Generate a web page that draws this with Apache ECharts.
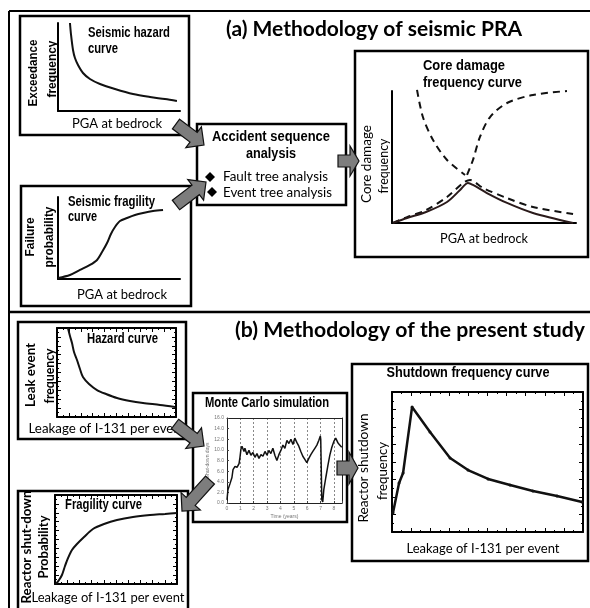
<!DOCTYPE html>
<html><head><meta charset="utf-8">
<script src="https://cdn.jsdelivr.net/npm/echarts@6/dist/echarts.min.js"></script>
<style>html,body{margin:0;padding:0;background:#fff}#c{width:590px;height:608px}</style>
</head><body><div id="c"></div>
<script>
// ---- data (abstract units) ----
const seismicHazard = [[0.98,10.0],[1.07,8.64],[1.23,6.93],[1.39,6.02],[1.64,5.23],[2.05,4.32],[2.62,3.64],[3.44,3.07],[4.67,2.5],[6.15,1.93],[7.54,1.59],[8.77,1.36],[9.75,1.14]];
const seismicFragility = [[0,0.12],[0.98,0.49],[1.8,1.1],[2.62,1.71],[3.2,2.32],[3.61,3.29],[4.02,4.39],[4.34,5.49],[4.67,6.34],[5.08,7.07],[5.66,7.44],[6.31,7.80],[6.97,8.05],[7.79,8.29],[8.61,8.41]];
const cdfHazardDashed = [[1.36,10.08],[1.68,8.03],[2.23,6.29],[2.99,4.77],[3.97,3.64]];
const cdfFragilityDashed = [[4.08,3.64],[4.40,4.77],[4.78,6.52],[5.33,8.03],[6.25,9.09],[7.66,9.70],[9.51,10.0]];
const cdfSolid = [[0.05,0],[0.82,0.38],[1.85,0.83],[2.99,1.59],[3.70,2.5],[4.13,3.03],[4.40,2.88],[5.16,2.27],[6.25,1.52],[7.66,0.76],[9.84,0]];
const cdfDashed = [[0.05,0],[0.82,0.45],[1.85,0.98],[2.99,1.97],[3.86,3.03],[4.24,3.26],[4.95,2.65],[6.25,1.89],[7.66,1.21],[9.84,0.68]];
const leakHazard = [[0.92,10],[1.09,9.1],[1.26,8.31],[1.43,7.30],[1.68,6.40],[1.93,5.39],[2.18,4.49],[2.69,3.71],[3.36,3.03],[4.12,2.58],[5.04,2.13],[6.13,1.80],[7.23,1.57],[8.66,1.35],[9.92,1.12]];
const leakFragility = [[0.08,0],[0.33,0.45],[0.57,1.01],[0.82,2.02],[1.07,2.92],[1.39,3.82],[1.80,4.49],[2.38,5.28],[3.11,6.18],[4.02,6.74],[5.08,7.19],[6.39,7.53],[7.79,7.75],[9.02,7.87],[10,7.98]];
const mcTime = [0,0.07,0.22,0.37,0.45,0.6,0.75,0.9,0.97,1.04,1.12,1.27,1.34,1.49,1.64,1.79,1.94,2.09,2.24,2.39,2.54,2.69,2.84,2.99,3.13,3.28,3.43,3.58,3.73,3.88,4.03,4.18,4.33,4.48,4.63,4.78,4.93,5.07,5.22,5.37,5.52,5.67,5.82,5.97,6.12,6.27,6.42,6.57,6.72,6.87,6.98,7.01,7.09,7.16,7.24,7.39,7.54,7.69,7.84,7.99,8.13,8.28,8.43,8.58];
const mcValue = [0.6,2.5,3.6,4.8,6.3,6.9,6.7,7.4,8.6,10.1,10.7,9.7,10.3,9.1,9.9,9.0,9.5,8.6,9.3,8.4,9.1,8.8,9.7,9.0,9.9,9.3,10.3,9.0,8.0,9.1,9.9,10.9,10.3,11.8,11.2,12.0,11.0,12.2,11.4,10.7,9.7,8.8,8.2,7.6,8.4,9.1,9.7,10.3,10.9,11.8,12.6,12.0,0.6,0.2,2.5,4.8,7.0,9.0,10.5,11.6,12.2,11.4,10.9,10.5];
const shutdownFreq = [[0.05,1.09],[0.37,2.8],[0.58,3.37],[1.05,7.14],[1.99,5.71],[3.04,4.23],[3.98,3.54],[5.03,3.03],[6.18,2.69],[7.38,2.34],[8.64,2.06],[9.95,1.71]];
const mcXTicks = [0,1,2,3,4,5,6,7,8];

const NARROW = '"Liberation Sans",Arial,sans-serif';
const HUMAN = 'Lato,"Open Sans",sans-serif';

const chart = echarts.init(document.getElementById('c'), null, {renderer:'canvas'});
const mctx = document.createElement('canvas').getContext('2d');
function measure(font,t){ mctx.font = font; return mctx.measureText(t).width; }

const xAxes = [], yAxes = [];
function plainAxes(gi, xmax, ymax){
  const base = {type:'value', gridIndex:gi, min:0, axisLine:{show:true,onZero:false,lineStyle:{color:'#000',width:2}}, axisTick:{show:false}, axisLabel:{show:false}, splitLine:{show:false}};
  xAxes.push(Object.assign({}, base, {max:xmax}));
  yAxes.push(Object.assign({}, base, {max:ymax}));
}
function framedAxes(gi, xmax, ymax){
  const tick = {show:true, inside:true, length:4, lineStyle:{color:'#000',width:1}};
  const minor = {show:true, splitNumber:2, length:2, lineStyle:{color:'#000',width:1}};
  const base = {type:'value', gridIndex:gi, min:0, interval:1, axisLine:{show:true,onZero:false,lineStyle:{color:'#000',width:2}}, axisTick:tick, minorTick:minor, axisLabel:{show:false}, splitLine:{show:false}};
  xAxes.push(Object.assign({}, base, {max:xmax, position:'bottom'}));
  yAxes.push(Object.assign({}, base, {max:ymax, position:'left'}));
  xAxes.push(Object.assign({}, base, {max:xmax, position:'top'}));
  yAxes.push(Object.assign({}, base, {max:ymax, position:'right'}));
}
plainAxes(0,10,10);         // 0
plainAxes(1,10,10);         // 1
plainAxes(2,10,10);         // 2
framedAxes(3,10,10);        // 3,4
framedAxes(4,10,10);        // 5,6
// MC grid 5
xAxes.push({type:'value', gridIndex:5, min:0, max:8.6, interval:1, axisLine:{show:true,onZero:false,lineStyle:{color:'#222',width:1}},
  axisTick:{show:true,inside:true,length:2,lineStyle:{color:'#444'}}, axisLabel:{show:true,fontSize:5,color:'#777',margin:3,
  customValues:mcXTicks, formatter:v=>String(v)}, splitLine:{show:true,lineStyle:{color:'#888',type:[2,2],width:1}},
  name:'Time (years)', nameLocation:'middle', nameGap:11, nameTextStyle:{fontSize:5,color:'#777'}}); // 7
yAxes.push({type:'value', gridIndex:5, min:0, max:16, interval:2, axisLine:{show:true,onZero:false,lineStyle:{color:'#222',width:1}},
  axisTick:{show:true,inside:true,length:2,lineStyle:{color:'#444'}}, axisLabel:{show:true,fontSize:5,color:'#777',margin:3,
  formatter:v=>v.toFixed(1)}, splitLine:{show:false},
  name:'Shut-down days', nameLocation:'middle', nameGap:17, nameRotate:90, nameTextStyle:{fontSize:5,color:'#777'}}); // 7
xAxes.push({type:'value', gridIndex:5, min:0, max:8.6, position:'top', axisLine:{show:true,onZero:false,lineStyle:{color:'#222',width:1}}, axisTick:{show:false}, axisLabel:{show:false}, splitLine:{show:false}}); // 8
yAxes.push({type:'value', gridIndex:5, min:0, max:16, position:'right', axisLine:{show:true,onZero:false,lineStyle:{color:'#222',width:1}}, axisTick:{show:false}, axisLabel:{show:false}, splitLine:{show:false}}); // 8
framedAxes(6,10,8);         // 9,10

const grids = [
  {left:58, top:23, width:122, height:88},
  {left:58, top:197, width:122, height:82},
  {left:392, top:91, width:184, height:132},
  {left:57, top:328, width:119, height:89},
  {left:55, top:495, width:122, height:89},
  {left:227, top:418, width:115, height:85},
  {left:392, top:392, width:191, height:140}
];

function line(xi, yi, data, opts){
  return Object.assign({type:'line', xAxisIndex:xi, yAxisIndex:yi, data:data, showSymbol:false, clip:false, silent:true,
    lineStyle:{color:'#111', width:2}}, opts||{});
}
const series = [
  line(0,0,seismicHazard,{smooth:0.3}),
  line(1,1,seismicFragility,{smooth:0.3}),
  line(2,2,cdfHazardDashed,{smooth:0.3, lineStyle:{color:'#111',width:2,type:[7,5]}}),
  line(2,2,cdfFragilityDashed,{smooth:0.3, lineStyle:{color:'#111',width:2,type:[7,5]}}),
  line(2,2,cdfDashed,{smooth:0.3, lineStyle:{color:'#111',width:2,type:[7,5]}}),
  line(2,2,cdfSolid,{smooth:0.3, lineStyle:{color:'#2a1a1a',width:2}}),
  line(3,3,leakHazard,{smooth:0.3}),
  line(5,5,leakFragility,{smooth:0.3}),
  line(7,7,mcTime.map((t,i)=>[t,mcValue[i]]),{lineStyle:{color:'#111',width:1.5}}),
  line(9,9,shutdownFreq,{showSymbol:true, symbol:'circle', symbolSize:3, itemStyle:{color:'#111'}, lineStyle:{color:'#111',width:2.5}})
];

// ---- decorations ----
const G = [];
function rect(x,y,w,h,lw){ G.push({type:'rect', shape:{x,y,width:w,height:h}, style:{fill:null, stroke:'#000', lineWidth:lw||2.5}, z:5, silent:true}); }
function seg(x1,y1,x2,y2,lw){ G.push({type:'line', shape:{x1,y1,x2,y2}, style:{stroke:'#000', lineWidth:lw||2}, z:5, silent:true}); }
function txt(t,x,y,o){
  o=o||{};
  const font=(o.weight||'normal')+' '+(o.size||13)+'px '+(o.family||HUMAN);
  const s = o.w ? o.w/measure(font,t) : 1;
  G.push({type:'text', x, y, rotation:o.rot||0, scaleX:s, z:20, silent:true,
    style:{text:t, fill:o.color||'#000', font:font, align:o.align||'center', verticalAlign:'middle'}});
}
function arrow(x0,y0,x1,y1,sw,hw,hl){
  const dx=x1-x0, dy=y1-y0, L=Math.hypot(dx,dy), ux=dx/L, uy=dy/L, px=-uy, py=ux, b=L-hl;
  const loc=[[0,-sw/2],[b,-sw/2],[b,-hw/2],[L,0],[b,hw/2],[b,sw/2],[0,sw/2]];
  G.push({type:'polygon', z:30, silent:true, shape:{points:loc.map(([a,p])=>[x0+ux*a+px*p, y0+uy*a+py*p])},
    style:{fill:'#7d7d7d', stroke:'#111', lineWidth:1.2}});
}
function diamond(cx,cy,r){ G.push({type:'polygon', z:20, silent:true, shape:{points:[[cx,cy-r],[cx+r,cy],[cx,cy+r],[cx-r,cy]]}, style:{fill:'#000'}}); }

// outer frame
seg(9,11,9,608,2); seg(9,11,590,11,2); seg(9,312,590,312,2.5);
// boxes
rect(20,16,169,119); rect(21,186,170,120); rect(197,124,149,81); rect(355,51,233,206);
rect(18,322,168,117); rect(18,491,170,125); rect(193,393,154,129); rect(352,364,236,197);

const N = {weight:'bold', family:NARROW};
// titles
txt('(a) Methodology of seismic PRA',374,30,{weight:'bold',size:20,w:296});
txt('(b) Methodology of the present study',410,331,{weight:'bold',size:20,w:350});

// A1
txt('Seismic hazard',88,33,Object.assign({align:'left',size:14,w:82},N));
txt('curve',88,49,Object.assign({align:'left',size:14,w:30},N));
txt('Exceedance',33,73,Object.assign({rot:Math.PI/2,size:13.5,w:67},N));
txt('frequency',52,69,Object.assign({rot:Math.PI/2,size:13.5,w:57},N));
txt('PGA at bedrock',117,124,{size:13.5,w:90});
// A2
txt('Seismic fragility',68,202,Object.assign({align:'left',size:14,w:87},N));
txt('curve',68,217,Object.assign({align:'left',size:14,w:29},N));
txt('Failure',30,237,Object.assign({rot:Math.PI/2,size:13.5,w:39},N));
txt('probability',49,237,Object.assign({rot:Math.PI/2,size:13.5,w:61},N));
txt('PGA at bedrock',122,295,{size:13.5,w:90});
// accident
txt('Accident sequence',271,137,Object.assign({size:15,w:118},N));
txt('analysis',271,154,Object.assign({size:15,w:50},N));
diamond(210,177,5); diamond(212,192,5);
txt('Fault tree analysis',223,177,{align:'left',size:13.5,w:105});
txt('Event tree analysis',223,193,{align:'left',size:13.5,w:109});
// CDF
txt('Core damage',423,66,Object.assign({align:'left',size:15.5,w:82},N));
txt('frequency curve',423,83,Object.assign({align:'left',size:15.5,w:99},N));
txt('Core damage',366,164,{rot:Math.PI/2,size:14,w:78});
txt('frequency',383,166,{rot:Math.PI/2,size:14,w:55});
txt('PGA at bedrock',484,239,{size:13.5,w:88});
// B1
txt('Hazard curve',87,339,Object.assign({align:'left',size:14,w:71},N));
txt('Leak event',30,375,{rot:Math.PI/2,size:14,weight:'bold',w:64});
txt('frequency',49,376,{rot:Math.PI/2,size:14,weight:'bold',w:55});
txt('Leakage of I-131 per event',107,428,{size:14,w:157});
// B2
txt('Fragility curve',65,505,Object.assign({align:'left',size:14,w:77},N));
txt('Reactor shut-down',26,547,{rot:Math.PI/2,size:14,weight:'bold',w:113});
txt('Probability',43,547,{rot:Math.PI/2,size:14,weight:'bold',w:63});
txt('Leakage of I-131 per event',108,597,{size:14,w:153});
// MC
txt('Monte Carlo simulation',267,403,Object.assign({size:14,w:124},N));
// SD
txt('Shutdown frequency curve',468,373,Object.assign({size:15,w:163},N));
txt('Reactor shutdown',363,468,{rot:Math.PI/2,size:14,w:109});
txt('frequency',382,471,{rot:Math.PI/2,size:14,w:58});
txt('Leakage of I-131 per event',483,548,{size:14,w:153});

// arrows
arrow(176,124,204,145,12,26,13);
arrow(176,205,206,182,12,26,13);
arrow(338,161,359,161,12,30,9);
arrow(175,424,204,446,12,26,13);
arrow(210,480,182,511,12,26,13);
arrow(337,468,358,468,14,32,9);

chart.setOption({
  animation:false,
  backgroundColor:'#fff',
  grid:grids,
  xAxis:xAxes,
  yAxis:yAxes,
  series:series,
  graphic:{elements:G}
});
</script></body></html>
